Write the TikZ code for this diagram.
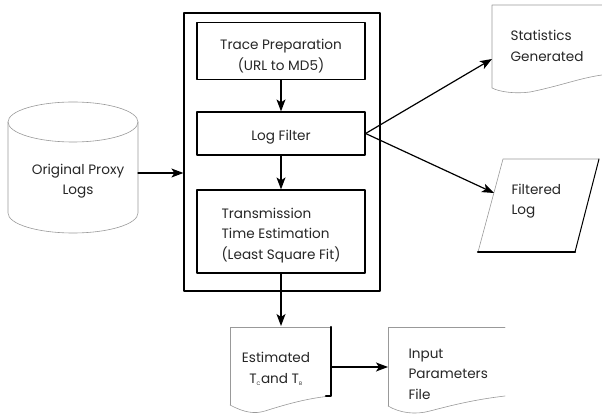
\documentclass[tikz,border=0pt]{standalone}
\usepackage{fontspec}
\setmainfont{Poppins}
\usetikzlibrary{arrows.meta}

\tikzset{
  proc/.style={draw=black, line width=1.2pt, minimum width=168pt, inner sep=0pt},
  lbl/.style={text=black!85, font=\fontsize{13.6}{20.5}\selectfont},
  outline/.style={draw=black!40, line width=0.6pt},
  heavy/.style={draw=black, line width=2.2pt},
  flow/.style={line width=1.2pt, -{Stealth[length=12pt,width=9pt,inset=3pt]}},
}

\begin{document}
\begin{tikzpicture}[x=1pt,y=-1pt,line cap=round,line join=round]
  \useasboundingbox (0,0) rectangle (602,419);

  % processing steps
  \node[draw, line width=1.2pt, minimum width=196pt, minimum height=278pt] (core) at (282,152) {};
  \node[proc, minimum height=57pt] (prep) at (281,51) {};
  \node[proc, minimum height=43pt] (filter) at (281,133.5) {};
  \node[proc, minimum height=83pt] (trans) at (281,231.5) {};
  \node[lbl, align=center] (preptext) at ([yshift=-5pt]prep.center) {Trace Preparation\\(URL to MD5)};
  \node[lbl] (filtertext) at ([yshift=-4pt]filter.center) {Log Filter};
  \node[lbl, align=left] (transtext) at ([yshift=-4pt]trans.center) {Transmission\\Time Estimation\\(Least Square Fit)};

  \draw[flow] (prep) -- (filter);
  \draw[flow] (filter) -- (trans);

  % proxy log store
  \draw[outline] (8,122) -- (8,213) arc[start angle=180, end angle=360, x radius=65, y radius=-20] -- (138,122);
  \draw[outline] (73,122) ellipse[x radius=65, y radius=20];
  \node[lbl, align=center] (logs) at (78,181) {Original Proxy\\Logs};
  \coordinate (logsout) at (138,173);
  \draw[flow] (logsout) -- (logsout -| core.west);

  % statistics output
  \draw[outline] (602,5) -- (492,5) -- (492,88)
    .. controls (500,92) and (515,94) .. (530,92)
    .. controls (560,86) and (580,78) .. (602,75);
  \node[lbl, align=left, anchor=west] (stats) at (507,46) {Statistics\\Generated};
  \coordinate (statsin) at (492,59);
  \draw[flow] (filter.east) -- (statsin);

  % filtered log output
  \draw[outline] (478,252) -- (503,159) -- (599,159);
  \draw[black, line width=1pt] (599,159) -- (575,252);
  \draw[heavy] (478,252) -- (575,252);
  \node[lbl, align=left, anchor=west] (flog) at (508,201) {Filtered\\Log};
  \coordinate (login) at (494,193);
  \draw[flow] (filter.east) -- (login);

  % estimated parameters
  \draw[outline] (230,405) -- (230,327) -- (331,327);
  \draw[outline] (230,405) .. controls (245,413) and (255,414) .. (265,411)
    .. controls (290,403) and (310,398) .. (331,396);
  \draw[heavy] (331,327) -- (331,396) -- (326,396);
  \node[lbl, align=center] (est) at (276,369) {Estimated\\T\textsubscript{\tiny C}and T\textsubscript{\tiny B}};
  \coordinate (estin) at (281,326);
  \draw[flow] (trans.south) -- (estin);

  % parameter file
  \draw[outline] (388,406) -- (388,327) -- (505,327);
  \draw[outline] (388,406) .. controls (400,413) and (415,415) .. (430,411)
    .. controls (460,403) and (480,399) .. (505,396);
  \node[lbl, align=left, anchor=west] (param) at (405,374) {Input\\Parameters\\File};
  \coordinate (estout) at (331,367);
  \coordinate (parin) at (388,367);
  \draw[flow] (estout) -- (parin);
\end{tikzpicture}
\end{document}
